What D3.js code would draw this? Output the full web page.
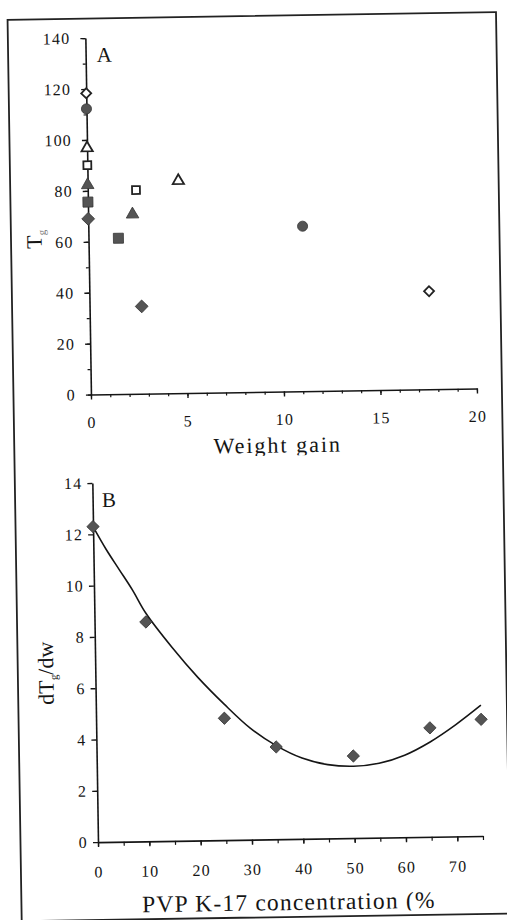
<!DOCTYPE html>
<html>
<head>
<meta charset="utf-8">
<script src="https://cdn.jsdelivr.net/npm/d3@7"></script>
<style>
  body { margin: 0; background: #fff; }
  svg { display: block; }
</style>
</head>
<body>
<div id="chart"></div>
<script>
// ---- panel A : Tg against weight gain (one marker style per series, two points each)
var seriesA = ["diamondOpen", "circle", "triangleOpen", "squareOpen", "triangle", "square", "diamond"];
var tgDry   = [118.3, 112.2, 96.8, 90.1, 82.3, 75.6, 69.0];
var gainWet = [17.6, 11.1, 4.7, 2.5, 2.3, 1.55, 2.7];
var tgWet   = [38.5, 64.8, 83.4, 80.0, 70.5, 61.2, 34.3];
var xTicksA = [0, 5, 10, 15, 20];
var yTicksA = [0, 20, 40, 60, 80, 100, 120, 140];

// ---- panel B : dTg/dw against PVP K-17 concentration
var pvpConc  = [0, 10, 25, 35, 50, 65, 75];
var dTgdw    = [12.3, 8.55, 4.75, 3.6, 3.2, 4.25, 4.55];
var fitConc  = [0, 2.5, 5, 7.5, 10, 15, 20, 25, 30, 35, 40, 45, 50, 55, 60, 65, 70, 75];
var fitDTg   = [12.3, 11.4, 10.6, 9.8, 8.9, 7.55, 6.35, 5.3, 4.35, 3.65, 3.15, 2.88, 2.8, 2.9, 3.2, 3.7, 4.35, 5.1];
var xTicksB = [0, 10, 20, 30, 40, 50, 60, 70];
var yTicksB = [0, 2, 4, 6, 8, 10, 12, 14];

var W = 507, H = 920;
var ink = "#151515", markFill = "#545454", markEdge = "#363636";
var serif = "Liberation Serif";

var svg = d3.select("#chart").append("svg")
    .attr("width", W)
    .attr("height", H);

svg.append("rect").attr("width", W).attr("height", H).attr("fill", "#fff");

// the scanned page sits slightly askew
var page = svg.append("g")
    .attr("transform", "rotate(-0.9," + W / 2 + "," + H / 2 + ")");

page.append("rect")
    .attr("x", 14.5).attr("y", 16)
    .attr("width", 488.5).attr("height", 901.5)
    .attr("fill", "none")
    .attr("stroke", "#222")
    .attr("stroke-width", 1.8);

var xA = d3.scaleLinear().domain([0, 20]).range([92, 478]);
var yA = d3.scaleLinear().domain([0, 140]).range([392, 35.5]);
var xB = d3.scaleLinear().domain([0, 75]).range([92, 477]);
var yB = d3.scaleLinear().domain([0, 14]).range([839.6, 480.5]);

function styleAxis(sel) {
    sel.attr("font-family", serif).attr("font-size", 16);
    sel.select(".domain").attr("stroke", ink).attr("stroke-width", 1.6);
    sel.selectAll(".tick line").attr("stroke", ink).attr("stroke-width", 1.4);
    sel.selectAll(".tick text").attr("fill", ink).style("letter-spacing", "1.2px");
}

function minorTicks(parent, axis) {
    parent.append("g")
        .call(axis.tickFormat("").tickSizeOuter(0))
        .call(function(s) {
            s.select(".domain").remove();
            s.selectAll(".tick line").attr("stroke", ink).attr("stroke-width", 1.2);
        });
}

// ---------------- panel A
var gA = page.append("g");

minorTicks(gA.append("g").attr("transform", "translate(0," + yA(0) + ")"),
    d3.axisBottom(xA).tickValues(xA.ticks(20)).tickSize(3));
minorTicks(gA.append("g").attr("transform", "translate(" + xA(0) + ",0)"),
    d3.axisLeft(yA).tickValues(yA.ticks(14)).tickSize(3));

gA.append("g")
    .attr("transform", "translate(0," + yA(0) + ")")
    .call(d3.axisBottom(xA).tickValues(xTicksA).tickSize(5).tickSizeOuter(0).tickPadding(17))
    .call(styleAxis);

gA.append("g")
    .attr("transform", "translate(" + xA(0) + ",0)")
    .call(d3.axisLeft(yA).tickValues(yTicksA).tickSize(5).tickSizeOuter(0).tickPadding(10))
    .call(styleAxis);

var symbolOf = {
    diamondOpen:  { type: d3.symbolSquare,   size: 50,  rot: 45, open: true },
    circle:       { type: d3.symbolCircle,   size: 80,  rot: 0,  open: false },
    triangleOpen: { type: d3.symbolTriangle, size: 55,  rot: 0,  open: true },
    squareOpen:   { type: d3.symbolSquare,   size: 62,  rot: 0,  open: true },
    triangle:     { type: d3.symbolTriangle, size: 68,  rot: 0,  open: false },
    square:       { type: d3.symbolSquare,   size: 100, rot: 0,  open: false },
    diamond:      { type: d3.symbolSquare,   size: 82,  rot: 45, open: false }
};

var pointsA = [];
seriesA.forEach(function(s, i) {
    pointsA.push({ series: s, x: 0, y: tgDry[i] });
    pointsA.push({ series: s, x: gainWet[i], y: tgWet[i] });
});

gA.selectAll(".markA")
    .data(pointsA)
    .join("path")
    .attr("class", "markA")
    .attr("d", function(d) { var m = symbolOf[d.series]; return d3.symbol().type(m.type).size(m.size)(); })
    .attr("transform", function(d) {
        return "translate(" + xA(d.x) + "," + yA(d.y) + ") rotate(" + symbolOf[d.series].rot + ")";
    })
    .attr("fill", function(d) { return symbolOf[d.series].open ? "#fff" : markFill; })
    .attr("stroke", function(d) { return symbolOf[d.series].open ? "#222" : markEdge; })
    .attr("stroke-width", function(d) { return symbolOf[d.series].open ? 1.8 : 0.8; });

gA.append("text")
    .attr("x", 103).attr("y", 59.6)
    .attr("font-family", serif).attr("font-size", 21).attr("fill", ink)
    .text("A");

var tgLabel = gA.append("text")
    .attr("transform", "translate(45,236) rotate(-90)")
    .attr("text-anchor", "middle")
    .attr("font-family", serif).attr("font-size", 22).attr("fill", ink);
tgLabel.append("tspan").text("T");
tgLabel.append("tspan").attr("font-size", 11).attr("dy", 4).attr("fill", "#777").text("g");

var clipA = svg.append("clipPath").attr("id", "clipTitleA");
clipA.append("rect").attr("x", 0).attr("y", 420).attr("width", W).attr("height", 36);

gA.append("text")
    .attr("x", 278).attr("y", 453)
    .attr("clip-path", "url(#clipTitleA)")
    .attr("text-anchor", "middle")
    .attr("font-family", serif).attr("font-size", 22).attr("fill", ink)
    .style("letter-spacing", "2px")
    .text("Weight gain");

// ---------------- panel B
var gB = page.append("g");

minorTicks(gB.append("g").attr("transform", "translate(0," + yB(0) + ")"),
    d3.axisBottom(xB).tickValues(xB.ticks(15)).tickSize(4));

gB.append("g")
    .attr("transform", "translate(0," + yB(0) + ")")
    .call(d3.axisBottom(xB).tickValues(xTicksB).tickSize(5).tickSizeOuter(0).tickPadding(19))
    .call(styleAxis);

gB.append("g")
    .attr("transform", "translate(" + xB(0) + ",0)")
    .call(d3.axisLeft(yB).tickValues(yTicksB).tickSize(5).tickSizeOuter(0).tickPadding(5))
    .call(styleAxis);

var fitLine = d3.line()
    .x(function(d) { return xB(d[0]); })
    .y(function(d) { return yB(d[1]); })
    .curve(d3.curveCatmullRom);

gB.append("path")
    .datum(d3.zip(fitConc, fitDTg))
    .attr("d", fitLine)
    .attr("fill", "none")
    .attr("stroke", ink)
    .attr("stroke-width", 1.6);

gB.selectAll(".markB")
    .data(d3.zip(pvpConc, dTgdw))
    .join("path")
    .attr("class", "markB")
    .attr("d", d3.symbol().type(d3.symbolSquare).size(76))
    .attr("transform", function(d) { return "translate(" + xB(d[0]) + "," + yB(d[1]) + ") rotate(45)"; })
    .attr("fill", markFill)
    .attr("stroke", markEdge)
    .attr("stroke-width", 0.8);

gB.append("text")
    .attr("x", 101.3).attr("y", 504.6)
    .attr("font-family", serif).attr("font-size", 21).attr("fill", ink)
    .text("B");

var dLabel = gB.append("text")
    .attr("transform", "translate(50,670) rotate(-90)")
    .attr("text-anchor", "middle")
    .attr("font-family", serif).attr("font-size", 22).attr("fill", ink);
dLabel.append("tspan").text("dT");
dLabel.append("tspan").attr("font-size", 11).attr("dy", 4).text("g");
dLabel.append("tspan").attr("dy", -4).text("/dw");

var clipB = svg.append("clipPath").attr("id", "clipTitleB");
clipB.append("rect").attr("x", 0).attr("y", 880).attr("width", W).attr("height", 33);

gB.append("text")
    .attr("x", 282).attr("y", 910.5)
    .attr("clip-path", "url(#clipTitleB)")
    .attr("text-anchor", "middle")
    .attr("font-family", serif).attr("font-size", 23.5).attr("fill", ink)
    .style("letter-spacing", "1.2px")
    .text("PVP K-17 concentration (%");
</script>
</body>
</html>
